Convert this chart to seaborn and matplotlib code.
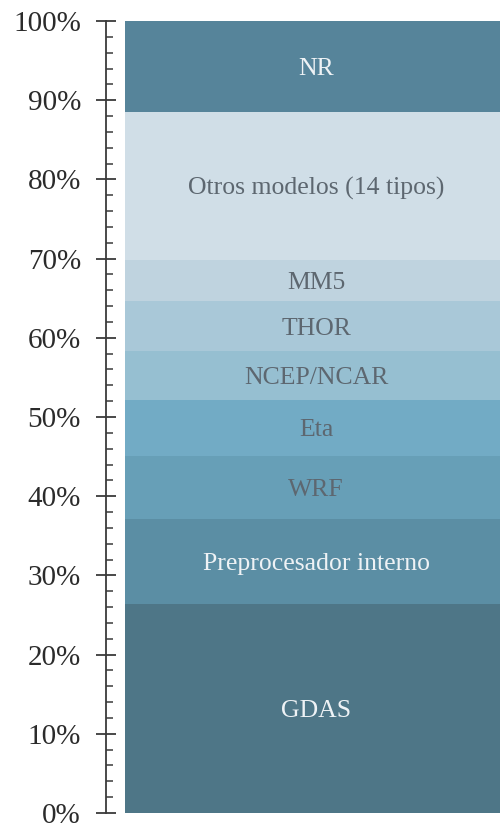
import numpy as np
import pandas as pd
import matplotlib
matplotlib.use("Agg")
import matplotlib.pyplot as plt
from matplotlib.ticker import MultipleLocator, FuncFormatter
import seaborn as sns

# Share of studies by meteorological input model (%), bottom to top
models = ["GDAS", "Preprocesador interno", "WRF", "Eta", "NCEP/NCAR",
          "THOR", "MM5", "Otros modelos (14 tipos)", "NR"]
shares = [26.4, 10.7, 8.0, 7.0, 6.2, 6.3, 5.2, 18.7, 11.5]
colors = ["#4e7687", "#5b8ea4", "#679fb7", "#72abc5", "#96bfd1",
          "#a9c8d8", "#bfd3df", "#d0dee7", "#56849a"]
text_colors = ["#eef2f5", "#eef2f5", "#5d6770", "#5d6770", "#5d6770",
               "#5d6770", "#5d6770", "#5d6770", "#eef2f5"]

sns.set_theme(style="white")
plt.rcParams["font.family"] = ["Liberation Serif", "DejaVu Serif"]

df = pd.DataFrame({"model": models, "share": shares, "color": colors})
df["top"] = df["share"].cumsum()
df["bottom"] = df["top"] - df["share"]
df["x"] = "total"

W, H = 500, 825
fig = plt.figure(figsize=(W / 100, H / 100), dpi=100)
ax = fig.add_axes([106 / W, (H - 813) / H, (W - 106) / W, (813 - 21) / H])

# Stacked column: draw cumulative heights from tallest down so each layer shows
for i in range(len(df) - 1, -1, -1):
    row = df.iloc[i]
    sns.barplot(data=df.iloc[[i]], x="x", y="top", color=row["color"],
                saturation=1, width=1.0, linewidth=0, ax=ax)

for i, row in df.iterrows():
    ax.text(0.01, (row["bottom"] + row["top"]) / 2 - 0.3, row["model"],
            ha="center", va="center", fontsize=18.5,
            color=text_colors[i])

ax.set_ylim(0, 100)
ax.set_xlim(0.5 - 394 / 375, 0.5)
ax.set_xlabel("")
ax.set_ylabel("")
ax.set_xticks([])

ax.yaxis.set_major_locator(MultipleLocator(10))
ax.yaxis.set_minor_locator(MultipleLocator(2))
ax.yaxis.set_major_formatter(FuncFormatter(lambda v, p: f"{v:.0f}%"))
ax.tick_params(axis="y", which="major", direction="inout", length=14,
               width=1.3, color="#3a3a3a", labelsize=21,
               labelcolor="#2b2b2b", pad=11, left=True)
ax.tick_params(axis="y", which="minor", direction="in", length=5,
               width=1.1, color="#3a3a3a", left=True)

for side in ["top", "right", "bottom"]:
    ax.spines[side].set_visible(False)
ax.spines["left"].set_color("#3a3a3a")
ax.spines["left"].set_linewidth(1.3)
ax.set_facecolor("none")

fig.savefig("out.png", dpi=100)
